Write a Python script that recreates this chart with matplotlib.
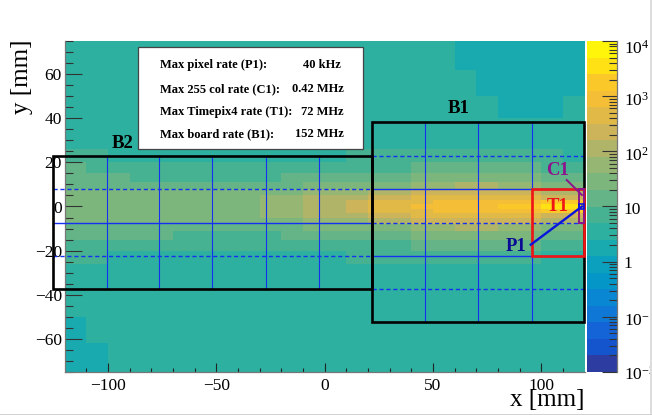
"""Hit rate map of the detector plane with the readout boards drawn on top."""

import matplotlib
matplotlib.use("Agg")
import matplotlib.pyplot as plt
import numpy as np
from matplotlib.colors import ListedColormap, LogNorm
from matplotlib.lines import Line2D
from matplotlib.patches import Rectangle
from matplotlib.ticker import LogLocator, NullFormatter
from matplotlib.transforms import ScaledTranslation

plt.rcParams["font.family"] = ["Liberation Serif", "DejaVu Serif"]
plt.rcParams["mathtext.fontset"] = "stix"

# palette bands, bottom to top
band_colors = [
    "#2d3ca0", "#1455cd", "#1464d7", "#0f78d7", "#0a87d2", "#0596c8", "#0aa0be",
    "#19aaaf", "#2db0a0", "#46b291", "#64b487", "#7db67d", "#96b673", "#afb469",
    "#cdb45a", "#e1b946", "#f5be37", "#fac828", "#ffe114", "#fff50a",
]
log_min, log_max = -2, 4

x_edges = np.arange(-120, 121, 10)
y_edges = [75, 62, 50, 40, 32, 26, 20, 15, 11, 8, 5, 3, 1,
           -1, -3, -5, -8, -11, -15, -20, -26, -32, -40, -50, -62, -75]

# colour band of each cell, top row first
cell_band = [
    [8, 8, 8, 8, 8, 8, 8, 8, 8, 8, 8, 8, 8, 8, 8, 8, 8, 8, 7, 7, 7, 7, 7, 7],
    [8, 8, 8, 8, 8, 8, 8, 8, 8, 8, 8, 8, 8, 8, 8, 8, 8, 8, 8, 7, 7, 7, 7, 7],
    [8, 8, 8, 8, 8, 8, 8, 8, 8, 8, 8, 8, 8, 8, 8, 8, 8, 8, 8, 8, 7, 7, 7, 8],
    [8, 8, 8, 8, 8, 8, 8, 8, 8, 8, 8, 8, 8, 8, 8, 8, 8, 8, 8, 8, 8, 8, 8, 8],
    [8, 8, 8, 8, 8, 8, 8, 8, 8, 8, 8, 8, 8, 8, 8, 8, 8, 8, 8, 8, 8, 8, 8, 8],
    [9, 9, 8, 8, 8, 8, 8, 8, 8, 8, 8, 8, 8, 9, 9, 9, 9, 9, 9, 9, 9, 9, 9, 8],
    [10, 9, 9, 9, 9, 9, 9, 9, 9, 9, 9, 9, 9, 9, 9, 9, 10, 10, 10, 10, 10, 10, 9, 9],
    [10, 10, 10, 9, 9, 9, 9, 9, 9, 9, 10, 10, 10, 10, 10, 10, 11, 11, 11, 11, 11, 11, 10, 10],
    [10, 10, 10, 10, 10, 10, 10, 10, 10, 10, 10, 11, 11, 11, 11, 11, 12, 12, 13, 13, 12, 12, 11, 11],
    [11, 11, 11, 11, 11, 11, 11, 11, 11, 11, 11, 12, 12, 12, 13, 13, 14, 14, 14, 14, 14, 14, 13, 13],
    [11, 11, 11, 11, 11, 11, 11, 11, 11, 12, 12, 13, 13, 13, 14, 14, 15, 15, 15, 15, 15, 15, 14, 14],
    [11, 11, 11, 11, 11, 11, 11, 11, 11, 12, 12, 13, 13, 14, 15, 15, 15, 16, 16, 16, 16, 16, 17, 17],
    [11, 11, 11, 11, 11, 11, 11, 11, 11, 12, 12, 13, 13, 14, 15, 15, 16, 16, 16, 16, 17, 17, 18, 18],
    [11, 11, 11, 11, 11, 11, 11, 11, 11, 12, 12, 13, 13, 14, 15, 15, 15, 16, 16, 16, 16, 16, 17, 17],
    [11, 11, 11, 11, 11, 11, 11, 11, 11, 12, 12, 13, 13, 13, 14, 14, 15, 15, 15, 15, 15, 15, 14, 14],
    [11, 11, 11, 11, 11, 11, 11, 11, 11, 11, 11, 12, 12, 12, 13, 13, 14, 14, 14, 14, 14, 14, 13, 13],
    [10, 10, 10, 10, 10, 10, 10, 10, 10, 10, 10, 11, 11, 11, 11, 11, 12, 12, 13, 13, 12, 12, 11, 11],
    [10, 10, 10, 10, 10, 9, 9, 9, 9, 9, 10, 10, 10, 10, 10, 10, 11, 11, 11, 11, 11, 11, 10, 10],
    [9, 9, 9, 9, 9, 9, 9, 9, 9, 9, 9, 9, 9, 9, 9, 9, 10, 10, 10, 10, 10, 10, 9, 9],
    [9, 9, 8, 8, 8, 8, 8, 8, 8, 8, 8, 8, 8, 9, 9, 9, 9, 9, 9, 9, 9, 9, 8, 8],
    [8, 8, 8, 8, 8, 8, 8, 8, 8, 8, 8, 8, 8, 8, 8, 8, 8, 8, 8, 8, 8, 8, 8, 8],
    [8, 8, 8, 8, 8, 8, 8, 8, 8, 8, 8, 8, 8, 8, 8, 8, 8, 8, 8, 8, 8, 8, 8, 8],
    [8, 8, 8, 8, 8, 8, 8, 8, 8, 8, 8, 8, 8, 8, 8, 8, 8, 8, 8, 8, 8, 8, 8, 8],
    [7, 8, 8, 8, 8, 8, 8, 8, 8, 8, 8, 8, 8, 8, 8, 8, 8, 8, 8, 8, 8, 8, 8, 8],
    [7, 7, 8, 8, 8, 8, 8, 8, 8, 8, 8, 8, 8, 8, 8, 8, 8, 8, 8, 8, 8, 8, 8, 8],
]

# board outlines as (x0, x1, y0, y1) in mm
board_b1 = (22, 120, -52.3, 38.2)
board_b2 = (-125.3, 22, -37.4, 23)
box_t1 = (95.7, 120, -22.4, 7.9)
box_c1 = (117.5, 120, -7.3, 7.9)
box_p1 = (117.5, 120, -1, 1.2)

# chip grid lines inside each board
b1_columns = [46.5, 71, 95.7]
b1_rows_solid = [7.9, -22.4]
b1_rows_dashed = [23, -7.3, -37.4]
b2_columns = [-100.7, -76.3, -51.9, -27, -2.4]
b2_rows_solid = [-7.3]
b2_rows_dashed = [7.9, -22.4]

# pointers from the labels to the hottest pixel and column
p1_line_x = [95.2, 118.8]
p1_line_y = [-17.3, 0]
c1_line_x = [111.8, 118.8]
c1_line_y = [12, 5.2]

# summary box
summary_box = (-86.3, 17.7, 26, 72.3)
summary_names = ["Max pixel rate (P1):", "Max 255 col rate (C1):",
                 "Max Timepix4 rate (T1):", "Max board rate (B1):"]
summary_values = ["40 kHz", "0.42 MHz", "72 MHz", "152 MHz"]
summary_y = [64.1, 53.2, 42.8, 32.9]
summary_value_x = [-10, -15, -11, -13.7]

BLUE = "#1430f0"
SHORT_DASH = (0, (3, 2))


def draw_box(ax, box, color, lw, zorder=4):
    x0, x1, y0, y1 = box
    ax.add_patch(Rectangle((x0, y0), x1 - x0, y1 - y0, fill=False, edgecolor=color,
                           linewidth=lw, zorder=zorder, clip_on=False))


fig = plt.figure(figsize=(6.52, 4.15), dpi=100)
ax = fig.add_axes([64.7 / 652, 1 - 372 / 415, 519.8 / 652, 331 / 415])
cax = fig.add_axes([587 / 652, 1 - 372 / 415, 30 / 652, 331 / 415])

# bands are equally wide in log10(rate), take each cell at its band centre
step = (log_max - log_min) / len(band_colors)
rate = 10.0 ** (log_min + step * (np.array(cell_band) + 0.5))
cmap = ListedColormap(band_colors)
norm = LogNorm(10.0 ** log_min, 10.0 ** log_max)
mesh = ax.pcolormesh(x_edges, y_edges, rate, cmap=cmap, norm=norm, zorder=1)

ax.set_xlim(-120, 120)
ax.set_ylim(-75, 75)
ax.set_xticks(np.arange(-100, 101, 50))
ax.set_xticks(np.arange(-110, 120, 10), minor=True)
ax.set_yticks(np.arange(-60, 61, 20))
ax.set_yticks(np.arange(-75, 76, 5), minor=True)
ax.tick_params(axis="x", which="major", direction="in", length=6.5, width=0.8,
               color="#222222", labelsize=12.5, pad=4.2)
ax.tick_params(axis="x", which="minor", direction="in", length=3.2, width=0.8, color="#222222")
ax.tick_params(axis="y", which="major", direction="in", length=11.9, width=0.8,
               color="#333333", labelsize=12.5, pad=2)
ax.tick_params(axis="y", which="minor", direction="in", length=5.8, width=0.8, color="#333333")
for side in ("top", "right"):
    ax.spines[side].set_visible(False)
for side in ("left", "bottom"):
    ax.spines[side].set_color("#777777")
    ax.spines[side].set_linewidth(0.9)

fig.text(585 / 652, 1 - 400 / 415, "x [mm]", fontsize=18, ha="right", va="center")
fig.text(22 / 652, 1 - 40 / 415, "y [mm]", fontsize=18, rotation=90, ha="center", va="top")

# chip grid
for xs, board in ((b1_columns, board_b1), (b2_columns, board_b2)):
    ax.vlines(xs, board[2], board[3], colors=BLUE, linewidth=0.8, zorder=3)
for rows, board, style in ((b1_rows_solid, board_b1, "-"), (b1_rows_dashed, board_b1, SHORT_DASH),
                           (b2_rows_solid, board_b2, "-"), (b2_rows_dashed, board_b2, SHORT_DASH)):
    ax.hlines(rows, board[0], board[1], colors=BLUE, linewidth=1.0,
              linestyles=style, zorder=3, clip_on=False)

draw_box(ax, board_b2, "black", 1.9)
draw_box(ax, board_b1, "black", 1.9)
draw_box(ax, box_t1, "#f01414", 1.9, zorder=5)
draw_box(ax, box_c1, "#8c148c", 1.4, zorder=6)
ax.plot(c1_line_x, c1_line_y, color="#8c148c", linewidth=1.4, zorder=6, clip_on=False)
ax.plot(p1_line_x, p1_line_y, color="#0a14dc", linewidth=1.7, zorder=7, clip_on=False)
draw_box(ax, box_p1, "#0a14dc", 1.2, zorder=7)

label_style = dict(fontsize=13.5, fontweight="bold", ha="center", va="center", zorder=8)
ax.text(62, 44.5, "B1", color="black", **label_style)
ax.text(-93.5, 28.5, "B2", color="black", **label_style)
ax.text(107.7, 16.5, "C1", color="#8c148c", **label_style)
ax.text(107.7, 0, "T1", color="#f01414", **label_style)
ax.text(88.5, -18, "P1", color="#0a0a96", **label_style)

# summary box
x0, x1, y0, y1 = summary_box
ax.add_patch(Rectangle((x0, y0), x1 - x0, y1 - y0, facecolor="white", edgecolor="#444444",
                       linewidth=0.9, zorder=9))
for name, value, y, vx in zip(summary_names, summary_values, summary_y, summary_value_x):
    ax.text(-76, y, name, fontsize=9, fontweight="bold", va="center", zorder=10)
    ax.text(vx, y, value, fontsize=9, fontweight="bold", va="center", zorder=10)

# colour bar
cb = fig.colorbar(mesh, cax=cax)
cb.outline.set_visible(False)
cax.yaxis.set_ticks_position("right")
cax.set_yticks([1e-2, 1e-1, 1, 10, 1e2, 1e3, 1e4])
cax.set_yticklabels([r"$\mathregular{10^{-2}}$", r"$\mathregular{10^{-1}}$", "1", "10",
                     r"$\mathregular{10^{2}}$", r"$\mathregular{10^{3}}$", r"$\mathregular{10^{4}}$"])
cax.yaxis.set_minor_locator(LogLocator(base=10, subs=np.arange(2, 10), numticks=20))
cax.yaxis.set_minor_formatter(NullFormatter())
cax.tick_params(axis="y", which="major", direction="in", length=10.8, width=0.8,
                color="#333333", labelsize=12.5, pad=5)
cax.tick_params(axis="y", which="minor", direction="in", length=5.8, width=0.8, color="#333333")
cax.add_line(Line2D([1, 1], [0, 1], transform=cax.transAxes, color="#777777", linewidth=0.9,
                    clip_on=False))

# the labels sit a little under their ticks in the original, most at the top
for label, drop_px in zip(cax.get_yticklabels(), [1, 2, 0, 1, 2, 3, 6]):
    label.set_transform(label.get_transform()
                        + ScaledTranslation(0, -drop_px / 100, fig.dpi_scale_trans))

# thin grey frame at the lower right of the canvas, it also cuts the colour bar labels
fig.add_artist(Rectangle((650 / 652, 0), 2 / 652, 1, transform=fig.transFigure,
                         facecolor="#dcdcdc", edgecolor="none", zorder=20))
fig.add_artist(Rectangle((0, 0), 1, 1.5 / 415, transform=fig.transFigure,
                         facecolor="#d2d2d2", edgecolor="none", zorder=20))

fig.savefig("out.png", dpi=100)
